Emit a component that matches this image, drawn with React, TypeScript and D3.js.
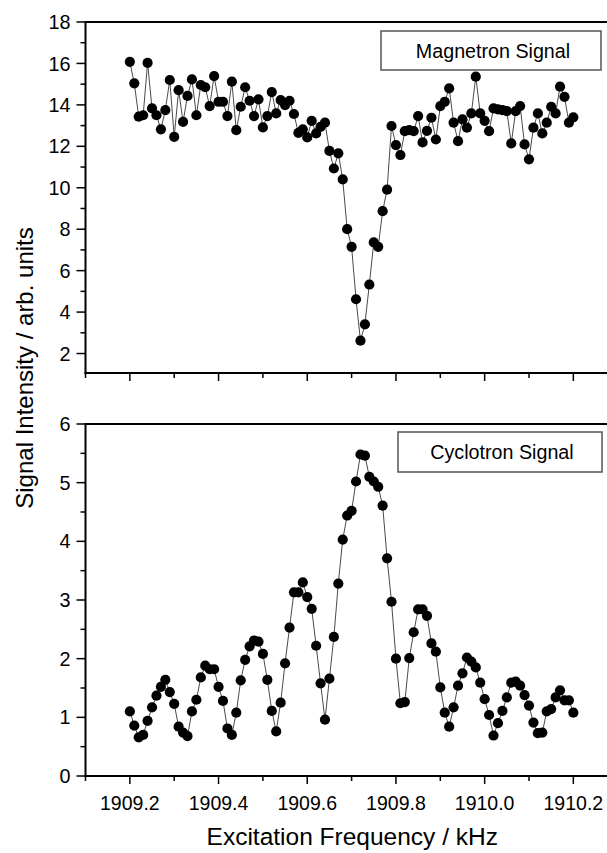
import React from "react";
import * as d3 from "d3";

const frequencies: number[] = [
  1909.2, 1909.21, 1909.22, 1909.23, 1909.24, 1909.25, 1909.26, 1909.27, 1909.28, 1909.29,
  1909.3, 1909.31, 1909.32, 1909.33, 1909.34, 1909.35, 1909.36, 1909.37, 1909.38, 1909.39,
  1909.4, 1909.41, 1909.42, 1909.43, 1909.44, 1909.45, 1909.46, 1909.47, 1909.48, 1909.49,
  1909.5, 1909.51, 1909.52, 1909.53, 1909.54, 1909.55, 1909.56, 1909.57, 1909.58, 1909.59,
  1909.6, 1909.61, 1909.62, 1909.63, 1909.64, 1909.65, 1909.66, 1909.67, 1909.68, 1909.69,
  1909.7, 1909.71, 1909.72, 1909.73, 1909.74, 1909.75, 1909.76, 1909.77, 1909.78, 1909.79,
  1909.8, 1909.81, 1909.82, 1909.83, 1909.84, 1909.85, 1909.86, 1909.87, 1909.88, 1909.89,
  1909.9, 1909.91, 1909.92, 1909.93, 1909.94, 1909.95, 1909.96, 1909.97, 1909.98, 1909.99,
  1910.0, 1910.01, 1910.02, 1910.03, 1910.04, 1910.05, 1910.06, 1910.07, 1910.08, 1910.09,
  1910.1, 1910.11, 1910.12, 1910.13, 1910.14, 1910.15, 1910.16, 1910.17, 1910.18, 1910.19,
  1910.2,
];

const magnetron: number[] = [
  16.08, 15.04, 13.43, 13.5, 16.03, 13.83, 13.5, 12.82, 13.75, 15.2,
  12.46, 14.71, 13.18, 14.43, 15.23, 13.5, 14.96, 14.85, 13.94, 15.39,
  14.15, 14.15, 13.46, 15.12, 12.78, 13.91, 14.85, 14.2, 13.46, 14.27,
  12.91, 13.46, 14.62, 13.59, 14.23, 13.99, 14.2, 13.56, 12.65, 12.82,
  12.43, 13.23, 12.62, 12.94, 13.14, 11.78, 10.93, 11.66, 10.4, 8.0,
  7.15, 4.62, 2.62, 3.41, 5.33, 7.36, 7.15, 8.87, 9.91, 12.98,
  12.06, 11.58, 12.73, 12.78, 12.73, 13.46, 12.19, 12.75, 13.38, 12.33,
  13.94, 14.15, 14.8, 13.14, 12.25, 13.3, 12.9, 13.59, 15.36, 13.59,
  13.23, 12.73, 13.83, 13.78, 13.75, 13.7, 12.14, 13.7, 13.94, 12.09,
  11.37, 12.9, 13.59, 12.62, 13.14, 13.91, 13.59, 14.88, 14.39, 13.14,
  13.4,
];

const cyclotron: number[] = [
  1.1, 0.86, 0.66, 0.7, 0.94, 1.17, 1.37, 1.52, 1.64, 1.43,
  1.23, 0.84, 0.74, 0.68, 1.1, 1.3, 1.68, 1.88, 1.82, 1.82,
  1.52, 1.28, 0.81, 0.7, 1.08, 1.63, 1.98, 2.21, 2.31, 2.29,
  2.08, 1.64, 1.11, 0.76, 1.25, 1.92, 2.53, 3.13, 3.13, 3.3,
  3.05, 2.85, 2.22, 1.58, 0.96, 1.66, 2.37, 3.28, 4.03, 4.44,
  4.52, 5.02, 5.48, 5.46, 5.1, 5.02, 4.93, 4.61, 3.71, 2.97,
  2.0, 1.24, 1.26, 2.01, 2.45, 2.84, 2.84, 2.73, 2.26, 2.12,
  1.51, 1.08, 0.84, 1.17, 1.54, 1.75, 2.02, 1.95, 1.85, 1.59,
  1.31, 1.04, 0.69, 0.9, 1.11, 1.34, 1.59, 1.61, 1.54, 1.38,
  1.2, 0.91, 0.73, 0.74, 1.1, 1.14, 1.34, 1.46, 1.29, 1.29,
  1.08,
];

const xMajorTicks: number[] = [1909.2, 1909.4, 1909.6, 1909.8, 1910.0, 1910.2];
const xMinorTicks: number[] = [1909.1, 1909.3, 1909.5, 1909.7, 1909.9, 1910.1];
const xTickLabels: string[] = ["1909.2", "1909.4", "1909.6", "1909.8", "1910.0", "1910.2"];
const topMajorTicks: number[] = [2, 4, 6, 8, 10, 12, 14, 16, 18];
const topMinorTicks: number[] = [3, 5, 7, 9, 11, 13, 15, 17];
const botMajorTicks: number[] = [0, 1, 2, 3, 4, 5, 6];
const botMinorTicks: number[] = [0.5, 1.5, 2.5, 3.5, 4.5, 5.5];

const FONT = "'Liberation Sans', Arial, Helvetica, sans-serif";
const W = 607;
const H = 853;

const x = d3.scaleLinear().domain([1909.1, 1910.3]).range([85.5, 617.7]);
const yTop = d3.scaleLinear().domain([1.06, 18]).range([373, 22]);
const yBot = d3.scaleLinear().domain([0, 6]).range([776, 424]);

type PanelProps = {
  values: number[];
  y: d3.ScaleLinear<number, number>;
  majors: number[];
  minors: number[];
  showXLabels: boolean;
  legend: string;
  legendBox: { x0: number; y0: number; x1: number; y1: number; ty: number };
};

function Panel({ values, y, majors, minors, showXLabels, legend, legendBox }: PanelProps) {
  const [yb, yt] = y.range();
  const x0 = x.range()[0];
  const pts = frequencies.map((f, i) => [x(f), y(values[i])] as [number, number]);
  const line = d3.line<[number, number]>().x((d) => d[0]).y((d) => d[1]);
  return (
    <g>
      <path d={line(pts) || ""} fill="none" stroke="#4a4a4a" strokeWidth={1} />
      {pts.map((p, i) => (
        <circle key={i} cx={p[0]} cy={p[1]} r={5.1} fill="#000" />
      ))}
      <line x1={x0} x2={W + 20} y1={yt} y2={yt} stroke="#000" strokeWidth={2} />
      <line x1={x0 - 1} x2={W + 20} y1={yb} y2={yb} stroke="#000" strokeWidth={2} />
      <line x1={x0} x2={x0} y1={yt - 1} y2={yb + 1} stroke="#000" strokeWidth={2} />
      {majors.map((v) => (
        <g key={"ym" + v}>
          <line x1={x0 - 9} x2={x0} y1={y(v)} y2={y(v)} stroke="#000" strokeWidth={1.5} />
          <text
            x={x0 - 15}
            y={y(v)}
            dy="0.36em"
            textAnchor="end"
            fontSize={19.8}
            fontFamily={FONT}
            fill="#000"
          >
            {String(v)}
          </text>
        </g>
      ))}
      {minors.map((v) => (
        <line key={"yn" + v} x1={x0 - 5} x2={x0} y1={y(v)} y2={y(v)} stroke="#000" strokeWidth={1.5} />
      ))}
      {xMajorTicks.map((v, i) => (
        <g key={"xm" + v}>
          <line x1={x(v)} x2={x(v)} y1={yb} y2={yb + 8} stroke="#000" strokeWidth={1.5} />
          {showXLabels && (
            <text x={x(v)} y={yb + 34} textAnchor="middle" fontSize={19.5} fontFamily={FONT} fill="#000">
              {xTickLabels[i]}
            </text>
          )}
        </g>
      ))}
      {xMinorTicks.map((v) => (
        <line key={"xn" + v} x1={x(v)} x2={x(v)} y1={yb} y2={yb + 5} stroke="#000" strokeWidth={1.5} />
      ))}
      <rect
        x={legendBox.x0}
        y={legendBox.y0}
        width={legendBox.x1 - legendBox.x0}
        height={legendBox.y1 - legendBox.y0}
        fill="#fff"
        stroke="#555"
        strokeWidth={1.5}
      />
      <text
        x={(legendBox.x0 + legendBox.x1) / 2 + 2}
        y={legendBox.ty}
        textAnchor="middle"
        fontSize={19.7}
        fontFamily={FONT}
        fill="#000"
      >
        {legend}
      </text>
    </g>
  );
}

export default function App() {
  return (
    <svg
      width={W}
      height={H}
      viewBox={`0 0 ${W} ${H}`}
      style={{ position: "absolute", left: 0, top: 0, background: "#fff" }}
    >
      <rect x={0} y={0} width={W} height={H} fill="#fff" />
      <Panel
        values={magnetron}
        y={yTop}
        majors={topMajorTicks}
        minors={topMinorTicks}
        showXLabels={false}
        legend="Magnetron Signal"
        legendBox={{ x0: 381, y0: 31, x1: 601, y1: 70, ty: 58 }}
      />
      <Panel
        values={cyclotron}
        y={yBot}
        majors={botMajorTicks}
        minors={botMinorTicks}
        showXLabels={true}
        legend="Cyclotron Signal"
        legendBox={{ x0: 398, y0: 432, x1: 602, y1: 472, ty: 459 }}
      />
      <text
        x={(x(1909.1) + W) / 2 + 6}
        y={845}
        textAnchor="middle"
        fontSize={24.5}
        fontFamily={FONT}
        fill="#000"
      >
        Excitation Frequency / kHz
      </text>
      <text
        transform={`translate(33, 368) rotate(-90)`}
        textAnchor="middle"
        fontSize={24}
        fontFamily={FONT}
        fill="#000"
      >
        Signal Intensity / arb. units
      </text>
    </svg>
  );
}
